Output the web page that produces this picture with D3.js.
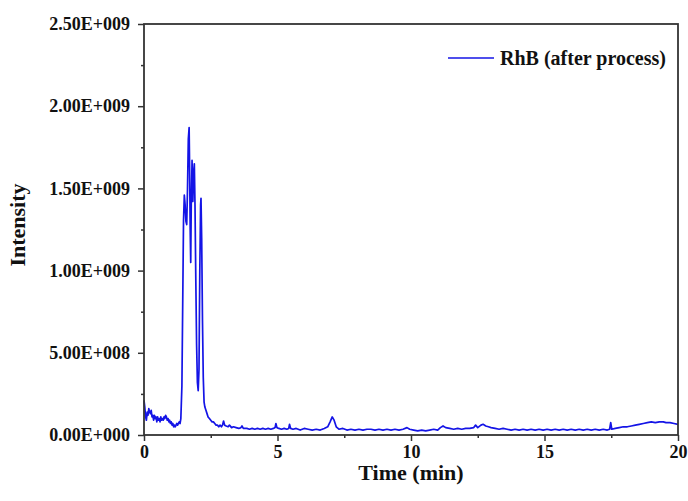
<!DOCTYPE html>
<html>
<head>
<meta charset="utf-8">
<script src="https://cdn.jsdelivr.net/npm/d3@7"></script>
<style>
  html, body { margin: 0; padding: 0; background: #fff; }
  svg { display: block; }
  text { font-family: "Liberation Serif", "Times New Roman", serif; font-weight: bold; fill: #111; }
</style>
</head>
<body>
<svg id="chart" width="688" height="501"></svg>
<script>
// ---- Data (time in min, intensity in units of 1e9) ----
const seriesName = "RhB (after process)";
const times = [
  0.00,0.03,0.06,0.09,0.12,0.15,0.18,0.21,0.24,0.27,0.30,0.33,0.36,0.39,0.42,0.45,0.48,0.51,0.54,0.57,
  0.60,0.63,0.66,0.69,0.72,0.75,0.78,0.81,0.84,0.87,0.90,0.93,0.96,0.99,1.02,1.05,1.08,1.11,1.14,1.17,
  1.20,1.23,1.26,1.29,1.32,1.35,1.38,1.42,1.45,1.48,1.51,1.54,1.57,1.60,1.63,1.66,1.69,1.71,1.73,1.75,
  1.77,1.80,1.83,1.86,1.885,1.91,1.94,1.97,2.00,2.03,2.06,2.09,2.12,2.135,2.16,2.19,2.22,2.25,2.28,2.32,
  2.36,2.40,2.45,2.50,2.55,2.60,2.65,2.70,2.75,2.80,2.85,2.90,2.94,2.98,3.02,3.08,3.15,3.20,3.28,3.35,
  3.45,3.55,3.63,3.67,3.72,3.85,3.95,4.05,4.15,4.25,4.35,4.45,4.55,4.65,4.75,4.85,4.91,4.94,4.98,5.05,
  5.15,5.25,5.35,5.42,5.45,5.49,5.58,5.70,5.85,6.00,6.15,6.30,6.45,6.60,6.75,6.88,6.97,7.05,7.12,7.20,
  7.30,7.45,7.60,7.75,7.90,8.05,8.20,8.35,8.50,8.65,8.80,8.95,9.10,9.25,9.40,9.55,9.70,9.85,9.95,10.10,
  10.25,10.40,10.55,10.70,10.85,11.00,11.10,11.20,11.30,11.45,11.60,11.75,11.90,12.05,12.20,12.35,12.42,12.50,12.62,12.70,
  12.80,12.90,13.00,13.15,13.30,13.45,13.60,13.75,13.90,14.05,14.20,14.35,14.50,14.65,14.80,14.95,15.10,15.25,15.40,15.55,
  15.70,15.85,16.00,16.15,16.30,16.45,16.60,16.75,16.90,17.05,17.20,17.35,17.44,17.48,17.52,17.65,17.80,17.95,18.10,18.25,
  18.40,18.55,18.70,18.85,19.00,19.15,19.30,19.45,19.55,19.70,19.85,20.00
];
const intensities = [
  0.21,0.17,0.11,0.09,0.14,0.12,0.16,0.14,0.13,0.15,0.11,0.12,0.09,0.12,0.10,0.11,0.08,0.11,0.09,0.10,
  0.08,0.11,0.09,0.10,0.09,0.11,0.10,0.12,0.11,0.09,0.10,0.08,0.09,0.07,0.08,0.06,0.07,0.05,0.06,0.05,
  0.06,0.07,0.06,0.07,0.08,0.07,0.10,0.30,0.80,1.30,1.46,1.40,1.30,1.28,1.50,1.80,1.87,1.60,1.25,1.05,
  1.40,1.67,1.42,1.60,1.65,1.40,0.95,0.55,0.32,0.27,0.40,1.00,1.40,1.44,1.20,0.70,0.35,0.20,0.17,0.15,
  0.13,0.11,0.10,0.09,0.08,0.08,0.07,0.06,0.06,0.05,0.06,0.05,0.06,0.085,0.06,0.055,0.05,0.06,0.045,0.05,
  0.045,0.04,0.045,0.055,0.04,0.04,0.035,0.04,0.035,0.04,0.035,0.04,0.035,0.04,0.035,0.04,0.045,0.07,0.045,0.04,
  0.035,0.04,0.035,0.04,0.065,0.04,0.035,0.04,0.03,0.04,0.035,0.03,0.035,0.03,0.04,0.05,0.08,0.11,0.09,0.05,
  0.035,0.04,0.03,0.035,0.03,0.035,0.03,0.035,0.035,0.03,0.035,0.03,0.035,0.03,0.035,0.03,0.035,0.045,0.035,0.03,
  0.025,0.03,0.025,0.03,0.035,0.03,0.045,0.055,0.045,0.04,0.035,0.04,0.035,0.04,0.04,0.045,0.06,0.045,0.06,0.065,
  0.055,0.05,0.045,0.04,0.035,0.04,0.035,0.03,0.035,0.03,0.035,0.03,0.035,0.03,0.035,0.03,0.035,0.03,0.035,0.03,
  0.035,0.03,0.035,0.03,0.035,0.03,0.035,0.03,0.035,0.03,0.035,0.03,0.035,0.075,0.035,0.04,0.045,0.05,0.05,0.055,
  0.06,0.065,0.07,0.075,0.08,0.075,0.08,0.08,0.075,0.075,0.07,0.065
];
const xTickValues = [0, 5, 10, 15, 20];
const xTickLabels = ["0", "5", "10", "15", "20"];
const yTickValues = [0, 0.5e9, 1.0e9, 1.5e9, 2.0e9, 2.5e9];
const yTickLabels = ["0.00E+000", "5.00E+008", "1.00E+009", "1.50E+009", "2.00E+009", "2.50E+009"];
const xMinorTicks = [2.5, 7.5, 12.5, 17.5];
const yMinorTicks = [0.25e9, 0.75e9, 1.25e9, 1.75e9, 2.25e9];

// ---- Layout ----
const W = 688, H = 501;
const m = { left: 144, right: 10, top: 24, bottom: 66 };
const iw = W - m.left - m.right, ih = H - m.top - m.bottom;
const svg = d3.select("#chart");
const g = svg.append("g").attr("transform", `translate(${m.left},${m.top})`);

const x = d3.scaleLinear().domain([0, 20]).range([0, iw]);
const y = d3.scaleLinear().domain([0, 2.5e9]).range([ih, 0]);

const data = times.map((t, i) => ({ t, v: intensities[i] * 1e9 }));

// line
g.append("path")
  .datum(data)
  .attr("fill", "none")
  .attr("stroke", "#1414e6")
  .attr("stroke-width", 1.7)
  .attr("stroke-linejoin", "round")
  .attr("d", d3.line().x(d => x(d.t)).y(d => y(d.v)));

// axes
const axisColor = "#333";
const xAxis = g.append("g").attr("transform", `translate(0,${ih})`)
  .call(d3.axisBottom(x).tickValues(xTickValues).tickFormat((d, i) => xTickLabels[i]).tickSize(6).tickPadding(4));
const xMinor = g.append("g").attr("transform", `translate(0,${ih})`)
  .call(d3.axisBottom(x).tickValues(xMinorTicks).tickFormat("").tickSize(3));
const yAxis = g.append("g")
  .call(d3.axisLeft(y).tickValues(yTickValues).tickFormat((d, i) => yTickLabels[i]).tickSize(6).tickPadding(8));
const yMinor = g.append("g")
  .call(d3.axisLeft(y).tickValues(yMinorTicks).tickFormat("").tickSize(3));

[xAxis, xMinor, yAxis, yMinor].forEach(a => {
  a.select(".domain").remove();
  a.selectAll("line").attr("stroke", axisColor).attr("stroke-width", 1.5);
  a.selectAll("text").attr("font-size", 18).attr("fill", "#111")
    .attr("font-family", '"Liberation Serif", "Times New Roman", serif').attr("font-weight", "bold");
});

// frame
g.append("rect").attr("x", 0).attr("y", 0).attr("width", iw).attr("height", ih)
  .attr("fill", "none").attr("stroke", axisColor).attr("stroke-width", 1.8);

// axis titles
svg.append("text")
  .attr("x", m.left + iw / 2).attr("y", 480)
  .attr("text-anchor", "middle").attr("font-size", 22)
  .text("Time (min)");
svg.append("text")
  .attr("transform", `translate(25,225) rotate(-90)`)
  .attr("text-anchor", "middle").attr("font-size", 22)
  .text("Intensity");

// legend
const lg = svg.append("g");
lg.append("line").attr("x1", 448).attr("x2", 494).attr("y1", 58).attr("y2", 58)
  .attr("stroke", "#1414e6").attr("stroke-width", 1.7);
lg.append("text").attr("x", 500).attr("y", 65).attr("font-size", 20).text(seriesName);
</script>
</body>
</html>
